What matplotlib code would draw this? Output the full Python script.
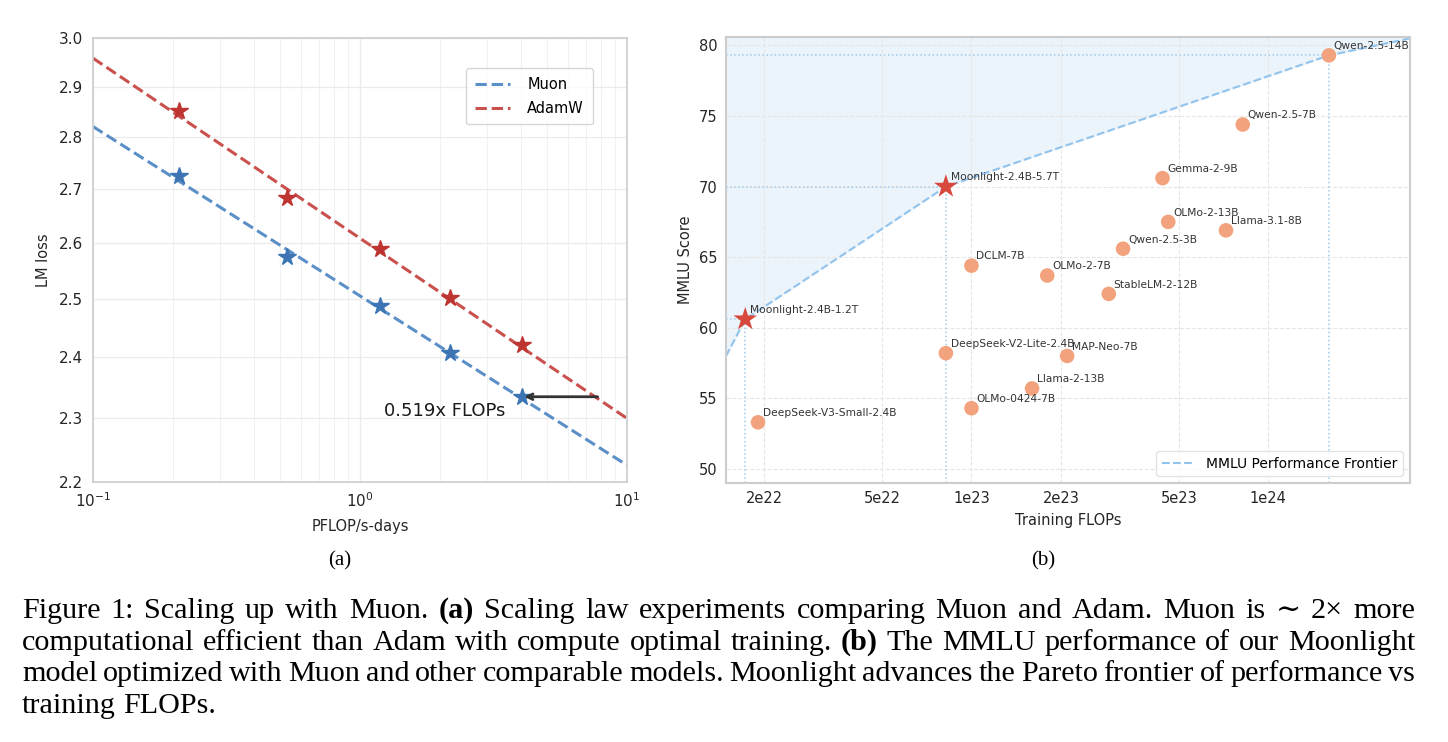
import matplotlib
matplotlib.use("Agg")
import matplotlib.pyplot as plt
from matplotlib.ticker import NullLocator, FixedLocator, FixedFormatter

# ---- (a) scaling law data
compute = [0.210, 0.531, 1.187, 2.178, 4.027]          # PFLOP/s-days
loss_muon = [2.725, 2.575, 2.488, 2.408, 2.335]
loss_adamw = [2.851, 2.682, 2.589, 2.502, 2.421]
fit_x = [0.1, 10]
fit_muon = [2.820, 2.226]
fit_adamw = [2.958, 2.300]
flops_ratio = 0.519
loss_ticks = [2.2, 2.3, 2.4, 2.5, 2.6, 2.7, 2.8, 2.9, 3.0]

# ---- (b) MMLU vs training FLOPs
models = ["DeepSeek-V3-Small-2.4B", "DeepSeek-V2-Lite-2.4B", "DCLM-7B", "OLMo-0424-7B",
          "Llama-2-13B", "OLMo-2-7B", "MAP-Neo-7B", "StableLM-2-12B", "Qwen-2.5-3B",
          "Gemma-2-9B", "OLMo-2-13B", "Llama-3.1-8B", "Qwen-2.5-7B", "Qwen-2.5-14B"]
flops = [1.91e22, 8.2e22, 1.0e23, 1.0e23, 1.6e23, 1.8e23, 2.1e23, 2.9e23, 3.24e23,
         4.4e23, 4.6e23, 7.2e23, 8.2e23, 1.6e24]
mmlu = [53.3, 58.2, 64.4, 54.3, 55.7, 63.7, 58.0, 62.4, 65.6, 70.6, 67.5, 66.9, 74.4, 79.3]
moon_names = ["Moonlight-2.4B-1.2T", "Moonlight-2.4B-5.7T"]
moon_flops = [1.73e22, 8.2e22]
moon_mmlu = [60.6, 70.0]
frontier_flops = [1.49e22, 1.73e22, 8.2e22, 1.6e24, 3.0e24]
frontier_mmlu = [58.0, 60.6, 70.0, 79.3, 80.5]
flop_ticks = [2e22, 5e22, 1e23, 2e23, 5e23, 1e24]
flop_labels = ["2e22", "5e22", "1e23", "2e23", "5e23", "1e24"]
mmlu_ticks = [50, 55, 60, 65, 70, 75, 80]

W, H = 1448, 742
fig = plt.figure(figsize=(W / 100, H / 100), dpi=100)
txt = "#262626"
spine_c = "#cccccc"

# ================= (a)
ax1 = fig.add_axes([93 / W, 1 - 482 / H, 534 / W, 444 / H])
ax1.set_xscale("log")
ax1.set_yscale("log")
ax1.plot(fit_x, fit_muon, "--", color="#5b8fc7", lw=2.2, label="Muon")
ax1.plot(fit_x, fit_adamw, "--", color="#c9504c", lw=2.2, label="AdamW")
ax1.plot(compute, loss_muon, "*", ms=13, color="#3c74b4", zorder=3)
ax1.plot(compute, loss_adamw, "*", ms=13, color="#be3430", zorder=3)
ax1.annotate("", xy=(compute[-1], loss_muon[-1]), xytext=(compute[-1] / flops_ratio, loss_muon[-1]),
             arrowprops=dict(arrowstyle="->", color="#333333", lw=2, shrinkA=0, shrinkB=2))
ax1.text(1.23, 2.312, f"{flops_ratio}x FLOPs", fontsize=13, color="#1a1a1a", va="center", ha="left")
ax1.set_xlim(0.1, 10)
ax1.set_ylim(2.2, 3.0)
ax1.yaxis.set_major_locator(FixedLocator(loss_ticks))
ax1.yaxis.set_major_formatter(FixedFormatter([f"{v:.1f}" for v in loss_ticks]))
ax1.yaxis.set_minor_locator(NullLocator())
ax1.grid(True, which="major", color="#ebebeb", lw=0.9)
ax1.grid(True, which="minor", axis="x", color="#f1f1f1", lw=0.8)
ax1.set_axisbelow(True)
ax1.tick_params(which="both", length=0, labelsize=11, colors=txt, pad=7)
ax1.set_xlabel("PFLOP/s-days", fontsize=10.5, color=txt, labelpad=6)
ax1.set_ylabel("LM loss", fontsize=10.5, color=txt, labelpad=6)
for s in ax1.spines.values():
    s.set_color(spine_c)
    s.set_linewidth(1.2)
ax1.legend(loc="upper right", bbox_to_anchor=(0.936, 0.932), borderaxespad=0, fontsize=10.5,
           frameon=True, edgecolor="#cccccc", handlelength=2.4, labelspacing=0.6,
           borderpad=0.6, handletextpad=1.2)

# ================= (b)
ax2 = fig.add_axes([726 / W, 1 - 483 / H, 684 / W, 446 / H])
ax2.set_xscale("log")
ax2.set_xlim(frontier_flops[0], frontier_flops[-1])
ax2.set_ylim(49.0, 80.6)
ymin, ymax = ax2.get_ylim()
xmin = ax2.get_xlim()[0]
ax2.fill_between(frontier_flops, frontier_mmlu, ymax, color="#ecf4fb", zorder=0)
ax2.plot(frontier_flops, frontier_mmlu, "--", color="#92c3ec", lw=1.5,
         label="MMLU Performance Frontier", zorder=1)
for fx, fy in [(moon_flops[0], moon_mmlu[0]), (moon_flops[1], moon_mmlu[1]), (flops[-1], mmlu[-1])]:
    ax2.plot([fx, fx], [ymin, fy], ":", color="#9ccbee", lw=1.1, zorder=1)
    ax2.plot([xmin, fx], [fy, fy], ":", color="#9ccbee", lw=1.1, zorder=1)
ax2.scatter(flops, mmlu, s=110, color="#f2a27c", edgecolors="none", zorder=3)
ax2.scatter(moon_flops, moon_mmlu, marker="*", s=320, color="#d7483d", edgecolors="none", zorder=4)
for name, fx, fy in zip(models + moon_names, flops + moon_flops, mmlu + moon_mmlu):
    ax2.annotate(name, (fx, fy), xytext=(3.5, 3), textcoords="offset points",
                 fontsize=7.7, color="#333333", ha="left", va="bottom", zorder=5)
ax2.xaxis.set_major_locator(FixedLocator(flop_ticks))
ax2.xaxis.set_major_formatter(FixedFormatter(flop_labels))
ax2.xaxis.set_minor_locator(NullLocator())
ax2.set_yticks(mmlu_ticks)
ax2.grid(True, ls="--", color="#e6e6e6", lw=0.8)
ax2.set_axisbelow(True)
ax2.tick_params(length=0, labelsize=10.5, colors=txt, pad=6)
ax2.set_xlabel("Training FLOPs", fontsize=10.5, color=txt, labelpad=5)
ax2.set_ylabel("MMLU Score", fontsize=10.5, color=txt, labelpad=4)
for s in ax2.spines.values():
    s.set_color(spine_c)
    s.set_linewidth(1.5)
ax2.legend(loc="lower right", fontsize=10, frameon=True, edgecolor="#dddddd", handlelength=2.4)

# ================= sub-captions and caption
serif = ["Liberation Serif", "DejaVu Serif"]
fig.text(340 / W, 1 - 561 / H, "(a)", fontsize=15, family=serif, ha="center", va="center")
fig.text(1043 / W, 1 - 561 / H, "(b)", fontsize=15, family=serif, ha="center", va="center")

cap_lines = [
    "Figure 1: Scaling up with Muon. **(a) Scaling law experiments comparing Muon and Adam. Muon is ∼ 2× more",
    "computational efficient than Adam with compute optimal training. **(b) The MMLU performance of our Moonlight",
    "model optimized with Muon and other comparable models. Moonlight advances the Pareto frontier of performance vs",
    "training FLOPs.",
]
baselines = [618, 650, 681, 713]
x0, x1 = 22, 1415
renderer = fig.canvas.get_renderer()

# font size so that the full lines fit on average with normal spacing
widths_probe = []
for line in cap_lines[:3]:
    probe = fig.text(0, 0, line.replace("**", ""), fontsize=20, family=serif)
    widths_probe.append(probe.get_window_extent(renderer).width)
    probe.remove()
cap_fs = 20 * (x1 - x0) * 0.99 / (sum(widths_probe) / len(widths_probe))
space = 0.25 * cap_fs * 100 / 72

for i, (line, yb) in enumerate(zip(cap_lines, baselines)):
    items = []
    for w in line.split(" "):
        bold = w.startswith("**")
        items.append(fig.text(0, 1 - yb / H, w.lstrip("*"), fontsize=cap_fs, family=serif,
                              weight="bold" if bold else "normal", va="baseline", ha="left"))
    widths = [t.get_window_extent(renderer).width for t in items]
    if i < len(cap_lines) - 1:
        gap = (x1 - x0 - sum(widths)) / (len(items) - 1)
    else:
        gap = space
    x = x0
    for t, w in zip(items, widths):
        t.set_x(x / W)
        x += w + gap

fig.savefig("out.png", dpi=100)
